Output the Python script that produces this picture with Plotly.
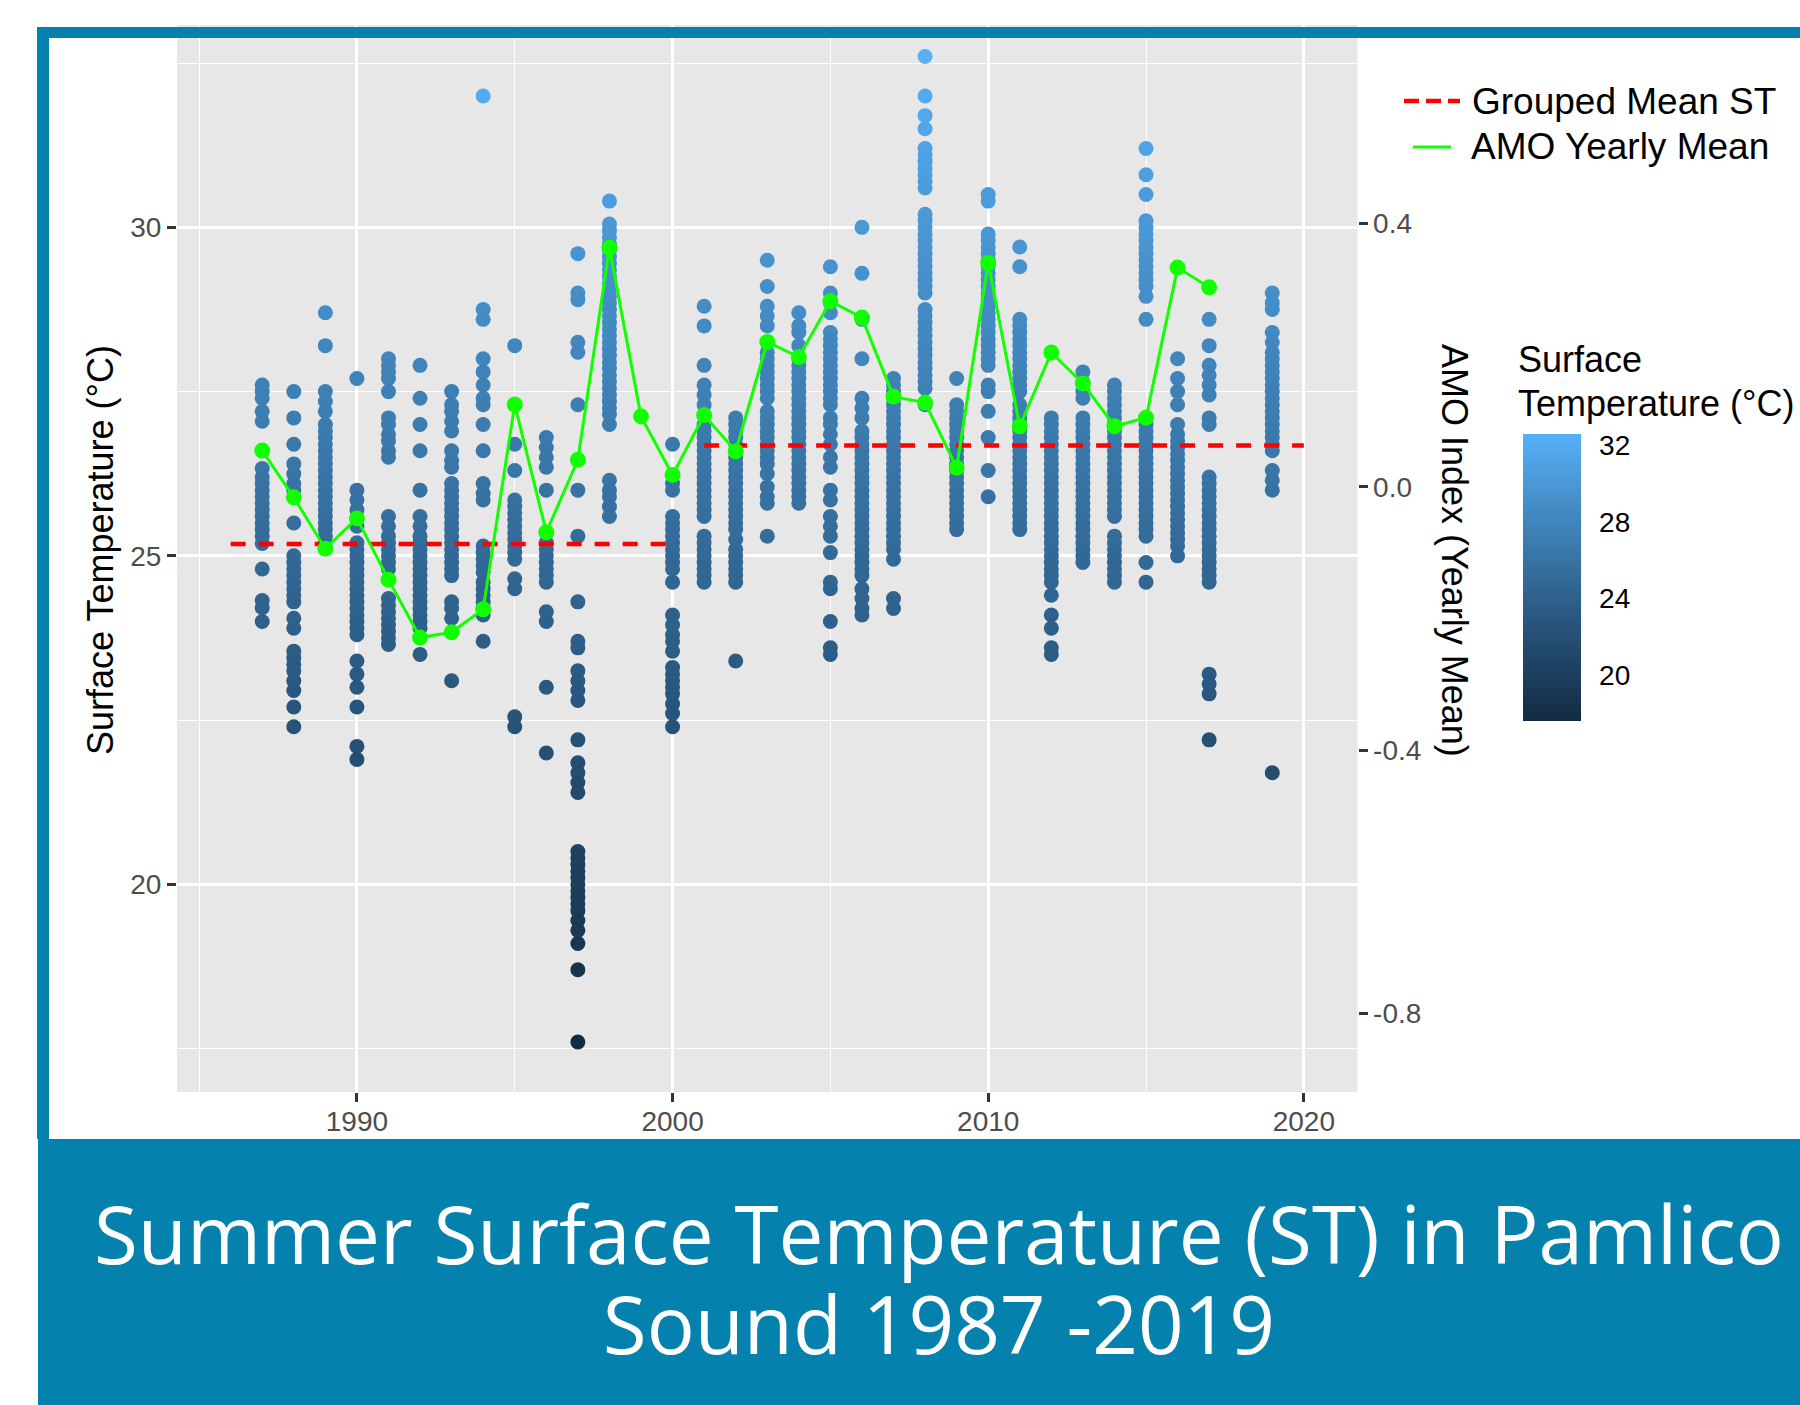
import plotly.graph_objects as go

# ---------------- data ----------------
st_1987 = [27.6, 27.5, 27.4, 27.2, 27.05, 26.33, 26.2, 26.1, 26.0, 25.9, 25.8, 25.7, 25.6, 25.5, 25.4, 25.3, 25.19, 24.8, 24.32, 24.21, 24.0]
st_1988 = [27.5, 27.1, 26.7, 26.4, 26.25, 26.1, 26.0, 25.5, 25.0, 24.9, 24.8, 24.7, 24.6, 24.5, 24.4, 24.3, 24.05, 23.9, 23.55, 23.45, 23.35, 23.25, 23.1, 22.95, 22.7, 22.4]
st_1989 = [28.7, 28.2, 27.5, 27.35, 27.2, 27.0, 26.9, 26.8, 26.7, 26.6, 26.5, 26.4, 26.3, 26.2, 26.1, 26.0, 25.9, 25.8, 25.7, 25.6, 25.5, 25.4, 25.3, 25.2]
st_1990 = [27.7, 26.0, 25.85, 25.7, 25.45, 25.2, 25.1, 25.0, 24.9, 24.8, 24.7, 24.6, 24.5, 24.4, 24.3, 24.2, 24.1, 24.0, 23.9, 23.8, 23.4, 23.2, 23.0, 22.7, 22.1, 21.9]
st_1991 = [28.0, 27.9, 27.8, 27.7, 27.5, 27.1, 27.0, 26.85, 26.75, 26.6, 26.5, 25.6, 25.45, 25.3, 25.2, 25.1, 25.0, 24.9, 24.8, 24.35, 24.25, 24.15, 24.05, 23.95, 23.85, 23.75, 23.65]
st_1992 = [27.9, 27.4, 27.0, 26.6, 26.0, 25.6, 25.45, 25.3, 25.2, 25.1, 25.0, 24.9, 24.8, 24.7, 24.6, 24.5, 24.4, 24.3, 24.2, 24.1, 24.0, 23.9, 23.5]
st_1993 = [27.5, 27.3, 27.2, 27.05, 26.9, 26.6, 26.45, 26.35, 26.1, 26.0, 25.9, 25.8, 25.7, 25.6, 25.5, 25.4, 25.3, 25.2, 25.1, 25.0, 24.9, 24.8, 24.7, 24.3, 24.2, 24.05, 23.1]
st_1994 = [32.0, 28.75, 28.6, 28.0, 27.8, 27.6, 27.4, 27.3, 27.0, 26.6, 26.1, 25.95, 25.85, 25.15, 25.05, 24.95, 24.85, 24.75, 24.6, 24.5, 24.4, 24.3, 24.2, 24.1, 23.7]
st_1995 = [28.2, 26.7, 26.3, 25.85, 25.75, 25.65, 25.55, 25.45, 25.35, 25.25, 25.15, 25.05, 24.95, 24.65, 24.5, 22.55, 22.4]
st_1996 = [26.8, 26.65, 26.5, 26.35, 26.0, 25.35, 25.2, 25.1, 25.0, 24.9, 24.8, 24.7, 24.6, 24.15, 24.0, 23.0, 22.0]
st_1997 = [29.6, 29.0, 28.9, 28.25, 28.1, 27.3, 26.0, 25.3, 24.3, 23.7, 23.6, 23.25, 23.1, 22.95, 22.8, 22.2, 21.85, 21.7, 21.55, 21.4, 20.5, 20.4, 20.3, 20.2, 20.1, 20.0, 19.9, 19.8, 19.7, 19.6, 19.45, 19.3, 19.1, 18.7, 17.6]
st_1998 = [30.4, 30.05, 29.95, 29.85, 29.75, 29.65, 29.55, 29.45, 29.35, 29.25, 29.15, 29.05, 28.95, 28.85, 28.75, 28.65, 28.55, 28.45, 28.35, 28.25, 28.15, 28.05, 27.95, 27.85, 27.75, 27.65, 27.55, 27.45, 27.35, 27.25, 27.15, 27.0, 26.15, 26.0, 25.9, 25.75, 25.6]
st_2000 = [26.7, 26.1, 26.0, 25.6, 25.5, 25.4, 25.3, 25.2, 25.1, 25.0, 24.9, 24.8, 24.6, 24.1, 23.95, 23.8, 23.7, 23.55, 23.3, 23.2, 23.1, 23.0, 22.9, 22.75, 22.6, 22.4]
st_2001 = [28.8, 28.5, 27.9, 27.6, 27.45, 27.3, 27.0, 26.9, 26.8, 26.7, 26.6, 26.5, 26.4, 26.3, 26.2, 26.1, 26.0, 25.9, 25.8, 25.7, 25.6, 25.3, 25.2, 25.1, 25.0, 24.9, 24.8, 24.7, 24.6]
st_2002 = [27.1, 27.0, 26.9, 26.8, 26.7, 26.6, 26.5, 26.4, 26.3, 26.2, 26.1, 26.0, 25.9, 25.8, 25.7, 25.6, 25.5, 25.4, 25.25, 25.1, 25.0, 24.9, 24.8, 24.7, 24.6, 23.4]
st_2003 = [29.5, 29.1, 28.8, 28.65, 28.5, 28.1, 28.0, 27.9, 27.8, 27.7, 27.6, 27.5, 27.4, 27.2, 27.1, 27.0, 26.9, 26.8, 26.7, 26.6, 26.5, 26.4, 26.25, 26.05, 25.9, 25.8, 25.3]
st_2004 = [28.7, 28.5, 28.4, 28.2, 28.0, 27.9, 27.8, 27.7, 27.6, 27.5, 27.4, 27.3, 27.2, 27.1, 27.0, 26.9, 26.8, 26.7, 26.6, 26.5, 26.4, 26.3, 26.2, 26.1, 26.0, 25.9, 25.8]
st_2005 = [29.4, 29.0, 28.85, 28.7, 28.4, 28.3, 28.2, 28.1, 28.0, 27.9, 27.8, 27.7, 27.6, 27.5, 27.4, 27.3, 27.1, 27.0, 26.85, 26.7, 26.5, 26.35, 26.0, 25.85, 25.6, 25.45, 25.3, 25.05, 24.6, 24.5, 24.0, 23.6, 23.5]
st_2006 = [30.0, 29.3, 28.6, 28.0, 27.4, 27.25, 27.1, 26.9, 26.8, 26.7, 26.6, 26.5, 26.4, 26.3, 26.2, 26.1, 26.0, 25.9, 25.8, 25.7, 25.6, 25.5, 25.4, 25.3, 25.2, 25.1, 25.0, 24.9, 24.8, 24.7, 24.5, 24.35, 24.2, 24.1]
st_2007 = [27.7, 27.6, 27.5, 27.4, 27.3, 27.2, 27.1, 27.0, 26.9, 26.8, 26.7, 26.6, 26.5, 26.4, 26.3, 26.2, 26.1, 26.0, 25.9, 25.8, 25.7, 25.6, 25.5, 25.4, 25.3, 25.2, 25.1, 24.95, 24.35, 24.2]
st_2008 = [32.6, 32.0, 31.7, 31.5, 31.2, 31.1, 31.0, 30.9, 30.8, 30.7, 30.6, 30.2, 30.1, 30.0, 29.9, 29.8, 29.7, 29.6, 29.5, 29.4, 29.3, 29.2, 29.1, 29.0, 28.75, 28.65, 28.55, 28.45, 28.35, 28.25, 28.15, 28.05, 27.95, 27.85, 27.75, 27.65, 27.55, 27.3]
st_2009 = [27.7, 27.3, 27.2, 27.1, 27.0, 26.9, 26.8, 26.7, 26.6, 26.5, 26.4, 26.3, 26.2, 26.1, 26.0, 25.9, 25.8, 25.7, 25.6, 25.5, 25.4]
st_2010 = [30.5, 30.4, 29.9, 29.8, 29.7, 29.6, 29.5, 29.4, 29.3, 29.2, 29.1, 29.0, 28.9, 28.8, 28.7, 28.6, 28.5, 28.4, 28.3, 28.2, 28.1, 28.0, 27.9, 27.6, 27.5, 27.2, 26.8, 26.3, 25.9]
st_2011 = [29.7, 29.4, 28.6, 28.5, 28.4, 28.3, 28.2, 28.1, 28.0, 27.9, 27.8, 27.7, 27.6, 27.5, 27.3, 27.2, 27.1, 27.0, 26.9, 26.8, 26.7, 26.6, 26.5, 26.4, 26.3, 26.2, 26.1, 26.0, 25.9, 25.8, 25.7, 25.6, 25.5, 25.4]
st_2012 = [27.1, 27.0, 26.9, 26.8, 26.7, 26.6, 26.5, 26.4, 26.3, 26.2, 26.1, 26.0, 25.9, 25.8, 25.7, 25.6, 25.5, 25.4, 25.3, 25.2, 25.1, 25.0, 24.9, 24.8, 24.7, 24.6, 24.4, 24.1, 23.9, 23.6, 23.5]
st_2013 = [27.8, 27.65, 27.5, 27.4, 27.1, 27.0, 26.9, 26.8, 26.7, 26.6, 26.5, 26.4, 26.3, 26.2, 26.1, 26.0, 25.9, 25.8, 25.7, 25.6, 25.5, 25.4, 25.3, 25.2, 25.1, 25.0, 24.9]
st_2014 = [27.6, 27.5, 27.4, 27.3, 27.2, 27.1, 27.0, 26.9, 26.8, 26.7, 26.6, 26.5, 26.4, 26.3, 26.2, 26.1, 26.0, 25.9, 25.8, 25.7, 25.6, 25.3, 25.2, 25.1, 25.0, 24.9, 24.8, 24.7, 24.6]
st_2015 = [31.2, 30.8, 30.5, 30.1, 30.0, 29.9, 29.8, 29.7, 29.6, 29.5, 29.4, 29.3, 29.2, 29.1, 28.95, 28.6, 27.1, 27.0, 26.9, 26.8, 26.7, 26.6, 26.5, 26.4, 26.3, 26.2, 26.1, 26.0, 25.9, 25.8, 25.7, 25.6, 25.5, 25.4, 25.3, 24.9, 24.6]
st_2016 = [28.0, 27.7, 27.5, 27.3, 27.0, 26.85, 26.75, 26.65, 26.55, 26.45, 26.35, 26.25, 26.15, 26.05, 25.95, 25.85, 25.75, 25.65, 25.55, 25.45, 25.35, 25.25, 25.15, 25.0]
st_2017 = [28.6, 28.2, 27.9, 27.75, 27.6, 27.45, 27.1, 27.0, 26.2, 26.1, 26.0, 25.9, 25.8, 25.7, 25.6, 25.5, 25.4, 25.3, 25.2, 25.1, 25.0, 24.9, 24.8, 24.7, 24.6, 23.2, 23.05, 22.9, 22.2]
st_2019 = [29.0, 28.85, 28.75, 28.4, 28.25, 28.1, 28.0, 27.9, 27.8, 27.7, 27.6, 27.5, 27.4, 27.3, 27.2, 27.1, 27.0, 26.9, 26.8, 26.7, 26.6, 26.3, 26.15, 26.0, 21.7]

st_years = [1987, 1988, 1989, 1990, 1991, 1992, 1993, 1994, 1995, 1996, 1997, 1998,
            2000, 2001, 2002, 2003, 2004, 2005, 2006, 2007, 2008, 2009, 2010, 2011,
            2012, 2013, 2014, 2015, 2016, 2017, 2019]
st_columns = [st_1987, st_1988, st_1989, st_1990, st_1991, st_1992, st_1993, st_1994,
              st_1995, st_1996, st_1997, st_1998, st_2000, st_2001, st_2002, st_2003,
              st_2004, st_2005, st_2006, st_2007, st_2008, st_2009, st_2010, st_2011,
              st_2012, st_2013, st_2014, st_2015, st_2016, st_2017, st_2019]

amo_years = list(range(1987, 2018))
amo_values = [0.055, -0.016, -0.094, -0.048, -0.141, -0.229, -0.221, -0.186, 0.125, -0.069,
              0.041, 0.363, 0.107, 0.018, 0.109, 0.054, 0.220, 0.197, 0.282, 0.257,
              0.137, 0.128, 0.029, 0.340, 0.092, 0.204, 0.157, 0.092, 0.105, 0.333, 0.303]

gm_start = [1986, 2001]
gm_end = [2000, 2020]
gm_value = [25.18, 26.68]

x_ticks = [1990, 2000, 2010, 2020]
x_minor = [1985, 1995, 2005, 2015]
y_ticks = [20, 25, 30]
y_minor = [17.5, 22.5, 27.5, 32.5]
amo_ticks = [-0.8, -0.4, 0.0, 0.4]
amo_tick_labels = ["-0.8", "-0.4", "0.0", "0.4"]
cb_ticks = [20, 24, 28, 32]

title_lines = ["Summer Surface Temperature (ST) in Pamlico", "Sound 1987 -2019"]

# ---------------- styling helpers ----------------
W, H = 1800, 1405
FONT = "Liberation Sans, Arial, sans-serif"
BLUE = "#0581AD"
GREEN = "#12FF00"


def px(xp):
    return xp / W


def py(yp):
    return 1 - yp / H


def _lin(c):
    c = c / 255.0
    return c / 12.92 if c <= 0.04045 else ((c + 0.055) / 1.055) ** 2.4


def _gam(c):
    c = 12.92 * c if c <= 0.0031308 else 1.055 * c ** (1 / 2.4) - 0.055
    return max(0, min(255, round(c * 255)))


def hex2lab(h):
    r, g, b = (_lin(int(h[i:i + 2], 16)) for i in (1, 3, 5))
    X = (0.4124 * r + 0.3576 * g + 0.1805 * b) / 0.95047
    Y = (0.2126 * r + 0.7152 * g + 0.0722 * b)
    Z = (0.0193 * r + 0.1192 * g + 0.9505 * b) / 1.08883
    f = lambda t: t ** (1 / 3) if t > 0.008856 else 7.787 * t + 16 / 116
    fx, fy, fz = f(X), f(Y), f(Z)
    return 116 * fy - 16, 500 * (fx - fy), 200 * (fy - fz)


def lab2hex(L, a, b):
    fy = (L + 16) / 116
    fx = fy + a / 500
    fz = fy - b / 200
    finv = lambda t: t ** 3 if t ** 3 > 0.008856 else (t - 16 / 116) / 7.787
    X, Y, Z = finv(fx) * 0.95047, finv(fy), finv(fz) * 1.08883
    r = 3.2406 * X - 1.5372 * Y - 0.4986 * Z
    g = -0.9689 * X + 1.8758 * Y + 0.0415 * Z
    bb = 0.0557 * X - 0.2040 * Y + 1.0570 * Z
    return "#%02X%02X%02X" % (_gam(r), _gam(g), _gam(bb))


lo, hi = hex2lab("#132B43"), hex2lab("#56B1F7")
n_stops = 11
colorscale = []
for i in range(n_stops):
    t = i / (n_stops - 1)
    colorscale.append([t, lab2hex(*[lo[k] + t * (hi[k] - lo[k]) for k in range(3)])])

# ---------------- traces ----------------
xs, ys = [], []
for yr, col in zip(st_years, st_columns):
    xs.extend([yr] * len(col))
    ys.extend(col)
cmin, cmax = min(ys), max(ys)

cb_top, cb_len = 434, 287

fig = go.Figure()
fig.add_trace(go.Scatter(
    x=xs, y=ys, mode="markers", showlegend=False,
    marker=dict(size=15, color=ys, colorscale=colorscale, cmin=cmin, cmax=cmax,
                line=dict(width=0),
                colorbar=dict(x=px(1523), xanchor="left", y=py(cb_top + cb_len / 2), yanchor="middle",
                              len=cb_len, lenmode="pixels", thickness=58, thicknessmode="pixels",
                              xpad=0, ypad=0, outlinewidth=0, tickvals=cb_ticks,
                              ticks="outside", ticklen=13, tickcolor="rgba(0,0,0,0)",
                              tickfont=dict(family=FONT, size=28, color="#000000"))),
))
for s, e, v in zip(gm_start, gm_end, gm_value):
    fig.add_trace(go.Scatter(x=[s, e], y=[v, v], mode="lines", showlegend=False,
                             line=dict(color="#FF0000", width=4.5, dash="15px,13px")))
fig.add_trace(go.Scatter(x=amo_years, y=amo_values, yaxis="y2", mode="lines+markers",
                         showlegend=False, line=dict(color=GREEN, width=3),
                         marker=dict(size=16, color=GREEN)))

# ---------------- axes ----------------
panel_top, panel_bot = 25, 1092
axis_common = dict(ticks="outside", ticklen=9, tickwidth=2.5, tickcolor="#333333",
                   tickfont=dict(family=FONT, size=28, color="#4D4D4D"),
                   showline=False, zeroline=False)
fig.update_layout(
    width=W, height=H, margin=dict(l=0, r=0, t=0, b=0),
    paper_bgcolor="white", plot_bgcolor="#E7E7E7",
    xaxis=dict(domain=[px(177), px(1357.5)], range=[1984.3, 2021.7], tickvals=x_ticks,
               showgrid=True, gridcolor="white", gridwidth=2.6, ticklabelstandoff=-5,
               minor=dict(tickvals=x_minor, showgrid=True, gridcolor="white", gridwidth=1.3),
               **axis_common),
    yaxis=dict(domain=[py(panel_bot), py(panel_top)], range=[16.84, 33.08], tickvals=y_ticks,
               showgrid=True, gridcolor="white", gridwidth=2.6,
               minor=dict(tickvals=y_minor, showgrid=True, gridcolor="white", gridwidth=1.3),
               **axis_common),
    yaxis2=dict(overlaying="y", side="right", anchor="x", range=[-0.9193, 0.7015],
                tickvals=amo_ticks, ticktext=amo_tick_labels, showgrid=False, **axis_common),
)

# ---------------- frame, title band, legend ----------------
shapes = [
    dict(type="rect", xref="paper", yref="paper", x0=px(37), x1=1, y0=py(38), y1=py(27),
         fillcolor=BLUE, line=dict(width=0), layer="above"),
    dict(type="rect", xref="paper", yref="paper", x0=px(37), x1=px(49), y0=py(1139), y1=py(27),
         fillcolor=BLUE, line=dict(width=0), layer="above"),
    dict(type="rect", xref="paper", yref="paper", x0=px(38), x1=1, y0=0, y1=py(1139),
         fillcolor=BLUE, line=dict(width=0), layer="above"),
    dict(type="line", xref="paper", yref="paper", x0=px(1404), x1=px(1460), y0=py(101), y1=py(101),
         line=dict(color="#FF0000", width=4.5, dash="15px,7px")),
    dict(type="line", xref="paper", yref="paper", x0=px(1413), x1=px(1451), y0=py(147), y1=py(147),
         line=dict(color=GREEN, width=3)),
]
for v in cb_ticks:
    yp = cb_top + cb_len * (cmax - v) / (cmax - cmin)
    for a, b in ((1523, 1534), (1570, 1581)):
        shapes.append(dict(type="line", xref="paper", yref="paper", x0=px(a), x1=px(b),
                           y0=py(yp), y1=py(yp), line=dict(color="white", width=1.5)))

# title: base font sets the line spacing (1.3 em = 90 px), spans set the glyph size
title_text = "<br>".join('<span style="font-size:80px">%s</span>' % t for t in title_lines)

ann = [
    dict(text="Surface Temperature (°C)", x=px(100), y=py(550), textangle=-90,
         font=dict(family=FONT, size=36, color="#000000")),
    dict(text="AMO Index (Yearly Mean)", x=px(1455), y=py(550), textangle=90,
         font=dict(family=FONT, size=36, color="#000000")),
    dict(text="Grouped Mean ST", x=px(1470), y=py(102), xanchor="left",
         font=dict(family=FONT, size=37, color="#000000")),
    dict(text="AMO Yearly Mean", x=px(1469), y=py(147), xanchor="left",
         font=dict(family=FONT, size=37, color="#000000")),
    dict(text="Surface", x=px(1516), y=py(359), xanchor="left",
         font=dict(family=FONT, size=36, color="#000000")),
    dict(text="Temperature (°C)", x=px(1516), y=py(404), xanchor="left",
         font=dict(family=FONT, size=36, color="#000000")),
    dict(text=title_text, x=px(939), y=py(1277),
         font=dict(family="Open Sans, sans-serif", size=69, color="white")),
]
for a in ann:
    a.update(xref="paper", yref="paper", showarrow=False)
    a.setdefault("xanchor", "center")
    a.setdefault("yanchor", "middle")

fig.update_layout(shapes=shapes, annotations=ann)
fig.write_html("out.html")
